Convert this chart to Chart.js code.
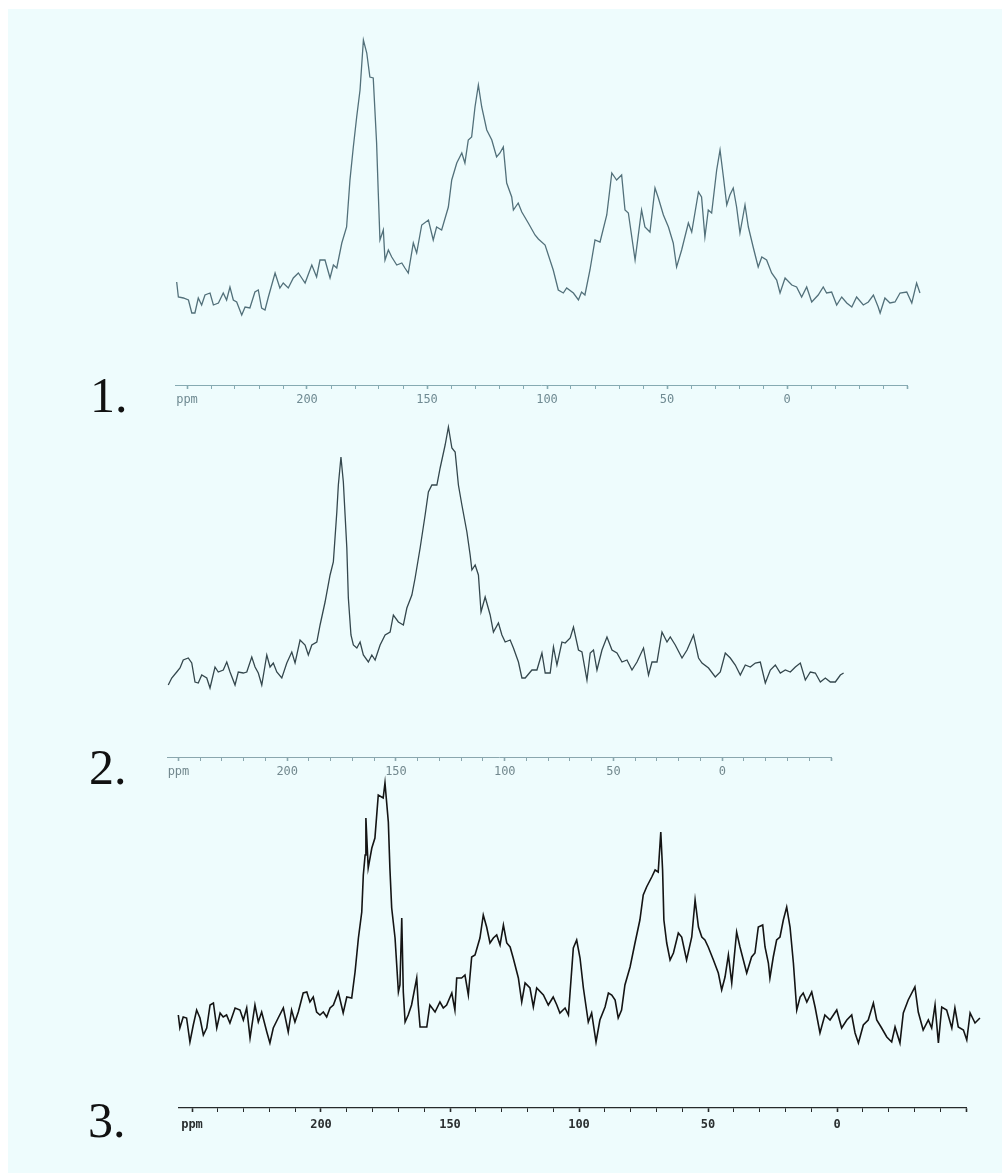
<!DOCTYPE html>
<html>
<head>
<meta charset="utf-8">
<script src="https://cdn.jsdelivr.net/npm/chart.js@4/dist/chart.umd.min.js"></script>
<style>
  html, body { margin:0; padding:0; background:#ffffff; width:1002px; height:1173px; overflow:hidden; }
  #bg { position:absolute; left:8px; top:9px; right:0; bottom:0; background:#eefcfd; }
  canvas { position:absolute; }
  .lbl { position:absolute; font-family:"Liberation Serif","DejaVu Serif",serif; font-size:50px; line-height:50px; color:#111; }
</style>
</head>
<body>
<div id="bg"></div>
<div class="lbl" id="l1" style="left:90px; top:370px;">1.</div>
<div class="lbl" id="l2" style="left:89px; top:742px;">2.</div>
<div class="lbl" id="l3" style="left:88px; top:1095px;">3.</div>
<canvas id="c1" width="782" height="409" style="left:155px; top:0px;"></canvas>
<canvas id="c2" width="713" height="371" style="left:148px; top:410px;"></canvas>
<canvas id="c3" width="837" height="360" style="left:159px; top:775px;"></canvas>
<script>
// ---- axis ticks (ppm) ----
const tickLabelValues = [250, 200, 150, 100, 50, 0];
const tickLabelTexts  = ['ppm', '200', '150', '100', '50', '0'];

// ---- spectrum 1 (chemical shift in ppm, intensity in arbitrary units) ----
const s1Ppm = [
  254.3,253.6,251.5,249.4,248.0,246.7,245.3,243.9,242.5,240.4,
  239.0,236.9,234.9,233.5,232.1,230.7,229.3,227.2,225.8,223.8,
  221.7,220.3,218.9,217.5,216.1,213.3,211.3,209.9,207.8,205.7,
  203.6,202.2,200.8,198.0,196.0,194.6,192.5,190.4,189.0,187.6,
  185.5,183.5,182.1,180.7,179.3,177.9,176.5,175.1,173.8,172.4,
  171.0,170.3,169.6,168.2,167.5,166.1,164.7,162.6,160.5,159.2,
  157.8,155.7,154.3,152.2,149.4,147.4,146.0,143.9,141.1,139.7,
  137.6,135.5,134.2,132.8,131.4,130.0,128.6,127.2,125.1,123.0,
  121.0,119.6,118.2,116.8,114.7,114.0,112.0,110.5,107.8,105.0,
  103.6,100.8,97.4,95.3,93.2,
  91.8,89.0,86.9,85.6,84.2,82.1,80.0,77.9,75.1,73.0,
  71.0,68.9,67.5,66.1,63.3,60.6,59.2,57.1,55.0,53.6,
  51.5,49.4,47.4,46.0,43.9,41.1,39.7,36.9,35.6,34.2,
  32.8,31.4,29.3,27.9,26.5,25.1,23.8,22.4,21.0,19.6,
  17.5,16.1,14.0,12.0,10.5,8.5,6.4,4.3,2.9,0.8,
  -2.0,-4.0,-6.1,-8.2,-10.3,-13.0,-15.1,-16.5,-18.6,-20.7,
  -22.8,-24.9,-27.0,-29.0,-31.8,-33.9,-36.0,-38.0,-38.8,-40.8,
  -42.9,-45.0,-47.1,-49.9,-52.0,-54.0,-55.4
];
const s1Int = [
  38,23,22,20,7,7,22,15,25,27,
  15,17,27,20,33,20,18,5,13,12,
  28,30,12,10,23,47,32,37,32,42,
  47,42,37,55,43,60,60,42,55,52,
  77,93,140,173,203,230,280,267,243,242,
  177,127,80,90,60,70,63,55,57,52,
  47,77,67,95,100,80,93,90,113,140,
  157,167,157,180,183,213,235,213,190,180,
  163,167,173,137,123,110,117,108,97,85,
  81,75,50,30,27,
  32,27,20,28,25,50,80,78,105,147,
  140,145,110,107,60,110,93,88,132,122,
  105,93,77,53,70,97,88,128,123,83,
  110,107,150,170,143,115,125,132,113,87,
  115,93,72,53,63,60,47,40,27,42,
  35,33,23,33,18,25,33,27,28,15,
  23,17,13,23,15,18,25,13,7,22,
  17,18,27,28,17,37,27
];

// ---- spectrum 2 ----
const s2Ppm = [
  254.7,253.1,250.8,249.3,247.8,245.5,243.9,242.4,240.9,239.3,
  237.0,235.5,233.2,231.7,229.4,227.8,226.3,224.0,222.5,220.2,
  218.6,216.3,214.8,213.3,211.7,209.4,207.9,206.4,204.8,202.5,
  200.2,197.9,196.4,194.1,191.8,190.3,188.7,186.4,184.9,182.6,
  180.3,178.8,177.2,176.5,175.3,174.2,173.4,172.6,171.9,170.7,
  169.6,168.0,166.5,165.0,162.7,161.1,159.6,157.3,155.0,152.7,
  151.2,148.9,146.6,145.0,142.7,141.2,138.9,136.6,135.1,133.5,
  131.2,129.7,127.4,125.9,124.3,122.8,121.3,119.7,117.4,115.9,
  115.1,113.6,112.1,110.9,109.0,106.7,105.2,102.9,101.3,99.8,
  97.5,96.0,93.7,92.1,90.6,
  87.5,85.2,82.9,81.4,79.1,77.6,76.0,73.7,72.2,69.9,
  68.4,66.1,64.5,62.2,60.7,59.2,57.6,55.3,53.0,50.7,
  48.4,46.1,43.8,41.5,39.2,36.2,33.9,32.3,30.0,27.7,
  25.4,23.9,21.6,18.5,16.2,13.2,10.9,9.3,6.3,3.2,
  0.9,-1.4,-3.7,-6.0,-8.3,-10.6,-12.9,-15.2,-17.5,-19.8,
  -22.1,-24.4,-26.7,-29.0,-31.3,-33.6,-35.9,-38.2,-40.5,-42.8,
  -45.1,-47.4,-49.7,-52.0,-54.3,-55.8
];
const s2Int = [
  5,12,18,22,30,32,27,8,7,15,
  12,2,23,18,20,28,18,5,18,17,
  18,33,23,17,5,35,23,27,18,12,
  27,38,27,50,45,35,45,48,65,88,
  115,128,178,205,233,208,175,142,92,55,
  45,42,48,35,28,35,30,45,55,58,
  75,68,65,82,95,112,142,175,198,205,
  205,222,245,263,242,238,205,185,158,135,
  120,125,115,78,93,75,58,67,55,48,
  50,42,28,12,12,
  20,20,37,17,17,43,25,48,47,52,
  63,40,38,10,37,40,20,40,53,40,
  37,28,30,20,28,42,15,28,28,58,
  48,53,45,32,40,55,32,27,22,13,
  18,37,32,25,15,25,23,27,28,7,
  20,25,17,20,18,23,27,10,18,17,
  8,12,8,8,15,17
];

// ---- spectrum 3 ----
const s3Ppm = [
  255.3,254.7,253.4,252.1,250.8,249.5,248.2,246.9,245.6,244.3,
  243.0,241.7,240.4,239.1,237.9,236.6,235.3,233.3,231.4,230.1,
  228.8,227.5,225.6,224.3,223.0,221.0,219.8,218.5,216.6,214.6,
  212.7,211.4,210.1,208.8,206.9,205.5,204.3,203.0,201.7,200.4,
  199.1,197.8,196.5,195.2,193.3,191.4,190.0,188.1,186.8,185.5,
  184.2,183.6,182.9,182.6,181.7,180.3,179.1,177.8,175.9,175.2,
  173.9,173.3,172.6,171.3,170.0,169.4,168.7,168.1,167.4,166.2,
  164.9,162.9,162.3,161.6,159.0,157.8,155.8,153.9,152.6,151.3,
  149.3,148.1,147.4,145.5,144.2,142.9,141.6,140.3,138.4,137.1,
  135.8,134.5,133.2,131.9,130.6,129.3,128.0,126.7,125.5,123.5,
  122.2,120.9,119.0,117.7,116.4,113.8,111.9,110.0,108.6,107.4,
  105.4,104.1,102.2,100.9,99.6,98.3,96.4,
  95.1,93.4,91.9,89.9,88.6,87.3,86.0,84.8,83.5,82.2,
  80.2,78.3,76.4,75.1,73.8,71.8,70.5,69.3,68.3,67.6,
  67.1,66.0,64.7,63.4,61.5,60.2,58.3,56.3,55.0,53.7,
  52.4,51.2,49.9,47.9,46.0,44.7,43.4,42.1,40.8,38.9,
  37.6,36.3,35.0,33.1,31.8,30.5,28.8,27.9,26.6,26.0,
  24.7,23.4,22.1,20.8,19.5,18.2,16.9,15.6,14.3,13.1,
  11.7,9.8,8.5,6.6,4.7,2.7,0.1,-1.8,-3.8,-5.7,
  -7.0,-8.3,-10.2,-12.1,-14.1,-15.4,-17.3,-19.3,-21.2,-22.5,
  -24.4,-25.7,-27.6,-30.2,-31.5,-33.4,-35.4,-36.7,-38.0,-39.3,
  -40.6,-42.5,-44.5,-45.7,-47.0,-49.0,-50.3,-51.6,-53.5,-55.4
];
const s3Int = [
  30,17,28,27,3,20,35,27,10,17,
  40,42,17,32,28,30,22,37,35,25,
  37,7,40,23,33,13,2,17,27,37,
  13,35,23,33,52,53,43,48,33,30,
  33,28,37,40,53,32,48,47,73,107,
  133,170,190,227,177,197,207,250,247,262,
  223,177,137,107,53,60,127,53,23,30,
  40,67,40,18,18,40,33,43,37,40,
  52,35,67,67,70,50,88,90,107,130,
  118,102,107,110,100,120,102,98,87,67,
  43,62,57,38,57,50,40,48,40,32,
  37,30,97,105,87,57,23,
  32,3,25,38,52,50,45,27,35,60,
  78,102,125,150,158,168,175,173,213,175,
  125,102,85,92,112,108,85,108,145,118,
  108,105,98,85,72,55,68,90,62,113,
  98,85,72,88,92,118,120,98,82,67,
  88,105,108,125,138,118,82,35,48,52,
  43,53,38,12,30,25,35,17,25,30,
  12,2,20,25,42,25,17,8,3,18,
  2,32,45,58,33,15,25,17,40,2,
  38,35,17,37,18,15,5,32,22,27
];

function makeSpectrum(canvasId, ppm, inten, cfg) {
  const pts = ppm.map((p, i) => ({ x: p, y: inten[i] }));
  new Chart(document.getElementById(canvasId), {
    type: 'line',
    data: { datasets: [{
      data: pts,
      borderColor: cfg.lineColor,
      borderWidth: cfg.lineWidth,
      pointRadius: 0,
      tension: 0,
      fill: false,
      clip: false
    }]},
    options: {
      responsive: false,
      animation: false,
      events: [],
      layout: { padding: cfg.padding },
      plugins: { legend: { display: false }, tooltip: { enabled: false }, title: { display: false } },
      scales: {
        x: {
          type: 'linear',
          reverse: true,
          min: -50,
          max: 255,
          afterFit: (s) => { s.height = cfg.axisHeight; },
          border: { display: true, color: cfg.axisColor, width: cfg.axisWidth },
          grid: {
            drawOnChartArea: false,
            drawTicks: true,
            tickLength: 4,
            color: cfg.axisColor,
            tickWidth: (ctx) => (ctx.tick && ctx.tick.value % 50 === 0 ? 1.6 : 1)
          },
          ticks: {
            stepSize: 10,
            includeBounds: false,
            autoSkip: false,
            maxRotation: 0,
            minRotation: 0,
            padding: cfg.tickPad,
            color: cfg.tickColor,
            font: { family: 'DejaVu Sans Mono', size: 12, weight: cfg.tickWeight },
            callback: (v) => {
              const k = tickLabelValues.indexOf(v);
              return k >= 0 ? tickLabelTexts[k] : '';
            }
          }
        },
        y: { display: false, min: cfg.yMin, max: cfg.yMax }
      }
    }
  });
}

makeSpectrum('c1', s1Ppm, s1Int, {
  lineColor: '#52707a', lineWidth: 1.3, axisColor: '#86aab2', axisWidth: 1, tickColor: '#6f8a92',
  tickWeight: 'normal', tickPad: 4, axisHeight: 24,
  padding: { left: 20, right: 30, top: 25, bottom: 0 }, yMin: -65, yMax: 295
});
makeSpectrum('c2', s2Ppm, s2Int, {
  lineColor: '#34474d', lineWidth: 1.3, axisColor: '#8aa7ae', axisWidth: 1, tickColor: '#72888e',
  tickWeight: 'normal', tickPad: 4, axisHeight: 24,
  padding: { left: 19.6, right: 30, top: 0, bottom: 0 }, yMin: -67, yMax: 280
});
makeSpectrum('c3', s3Ppm, s3Int, {
  lineColor: '#141414', lineWidth: 1.6, axisColor: '#262a2b', axisWidth: 1.3, tickColor: '#2a2f30',
  tickWeight: 'bold', tickPad: 6, axisHeight: 27,
  padding: { left: 20.1, right: 30, top: 5, bottom: 0 }, yMin: -63, yMax: 265
});
</script>
</body>
</html>
